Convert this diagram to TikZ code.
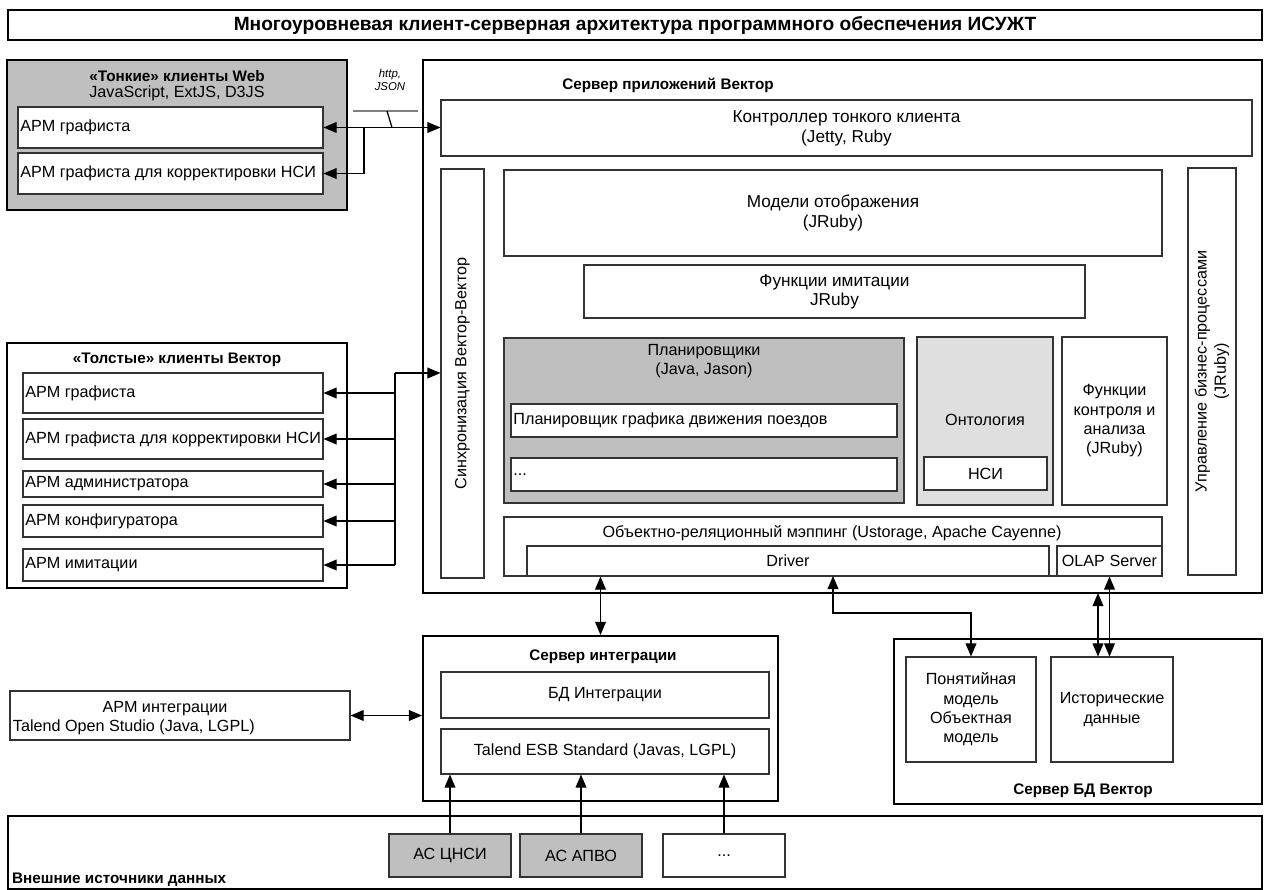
\documentclass[tikz,border=0pt]{standalone}
\usepackage{fontspec}
\setmainfont{Liberation Sans}
\usepackage{tikz}
\usetikzlibrary{positioning}
\usetikzlibrary{arrows}
\usetikzlibrary{fit}

\tikzset{
  blk/.style={draw=black!80, line width=0.6pt, inner sep=0pt, fill=white},
  frm/.style={draw=black, line width=1.2pt, inner sep=0pt},
  ttl/.style={font=\fontsize{8.7}{11}\selectfont\bfseries, inner sep=1pt},
  txt/.style={align=center, inner sep=1pt},
  lft/.style={anchor=west, inner sep=1.5pt},
  lnk/.style={line width=0.7pt},
}

\begin{document}
\begin{tikzpicture}[x=0.02cm,y=-0.02cm,>=triangle 45,font=\fontsize{9.2}{11}\selectfont]
  \useasboundingbox (0,0) rectangle (1264,889);

  % title
  \node[frm, fit={(8,10) (1262,40)}] (title) {};
  \node[txt, font=\fontsize{10.9}{12}\selectfont\bfseries] at (title.center)
    {Многоуровневая клиент-серверная архитектура программного обеспечения ИСУЖТ};

  % thin clients
  \node[frm, line width=0.9pt, fill=gray!50, fit={(7,60) (347,210)}] (web) {};
  \node[ttl] at (177,76) {«Тонкие» клиенты Web};
  \node at (177,93) {JavaScript, ExtJS, D3JS};
  \node[blk, fit={(18,107) (323,148)}] (web1) {};
  \node[lft] at (web1.west) {АРМ графиста};
  \node[blk, fit={(18,153) (323,194)}] (web2) {};
  \node[lft] at (web2.west) {АРМ графиста для корректировки НСИ};

  % fat clients
  \node[frm, line width=0.9pt, fit={(7,343) (347,588)}] (fat) {};
  \node[ttl] at (177,360) {«Толстые» клиенты Вектор};
  \node[blk, fit={(23,373) (323,413)}] (fat1) {};
  \node[lft] at (fat1.west) {АРМ графиста};
  \node[blk, fit={(23,419) (323,459)}] (fat2) {};
  \node[lft] at (fat2.west) {АРМ графиста для корректировки НСИ};
  \node[blk, fit={(23,471) (323,497)}] (fat3) {};
  \node[lft] at (fat3.west) {АРМ администратора};
  \node[blk, fit={(23,505) (323,537)}] (fat4) {};
  \node[lft] at (fat4.west) {АРМ конфигуратора};
  \node[blk, fit={(23,549) (323,581)}] (fat5) {};
  \node[lft] at (fat5.west) {АРМ имитации};

  % application server
  \node[frm, fit={(423,60) (1262,593)}] (app) {};
  \node[ttl] at (668,85) {Сервер приложений Вектор};
  \node[blk, fit={(441,100) (1252,156)}] (ctrl) {};
  \node[txt, font=\fontsize{9.8}{11.5}\selectfont] at (ctrl.center) {Контроллер тонкого клиента\\(Jetty, Ruby};
  \node[blk, fit={(441,169) (484,578)}] (sync) {};
  \node[rotate=90] at (sync.center) {Синхронизация Вектор-Вектор};
  \node[blk, fit={(504,170) (1162,256)}] (models) {};
  \node[txt, font=\fontsize{9.8}{11.5}\selectfont] at (models.center) {Модели отображения\\(JRuby)};
  \node[blk, fit={(584,265) (1085,318)}] (imit) {};
  \node[txt, font=\fontsize{9.8}{11}\selectfont] at (imit.center) {Функции имитации\\JRuby};
  \node[blk, fit={(1188,168) (1236,575)}] (bpm) {};
  \node[txt, rotate=90] at (bpm.center) {Управление бизнес-процессами\\(JRuby)};

  \node[blk, fill=gray!50, fit={(504,338) (904,503)}] (plan) {};
  \node[txt] at (704,361) {Планировщики\\(Java, Jason)};
  \node[blk, fit={(511,404) (897,437)}] (plan1) {};
  \node[lft] at (plan1.west) {Планировщик графика движения поездов};
  \node[blk, fit={(511,458) (897,491)}] (plan2) {};
  \node[lft] at (plan2.west) {...};

  \node[blk, fill=gray!25, fit={(917,337) (1053,505)}] (onto) {};
  \node at (985,420) {Онтология};
  \node[blk, fit={(924,457) (1047,490)}] (nsi) {};
  \node at (nsi.center) {НСИ};
  \node[blk, fit={(1062,337) (1167,505)}] (check) {};
  \node[txt] at (check.center) {Функции\\контроля и\\анализа\\(JRuby)};

  \node[blk, fit={(504,517) (1162,576)}] (orm) {};
  \node at (832,533) {Объектно-реляционный мэппинг (Ustorage, Apache Cayenne)};
  \node[blk, fit={(527,546) (1049,576)}] (driver) {};
  \node at (driver.center) {Driver};
  \node[blk, fit={(1057,546) (1162,576)}] (olap) {};
  \node at (olap.center) {OLAP Server};

  % integration
  \node[frm, fit={(423,636) (778,801)}] (isrv) {};
  \node[ttl] at (603,657) {Сервер интеграции};
  \node[blk, fit={(441,672) (769,718)}] (idb) {};
  \node at (idb.center) {БД Интеграции};
  \node[blk, fit={(441,729) (769,774)}] (esb) {};
  \node at (esb.center) {Talend ESB Standard (Javas, LGPL)};

  \node[blk, fit={(10,691) (350,740)}] (armint) {};
  \node at (165,709) {АРМ интеграции};
  \node[lft] at (10,727) {Talend Open Studio (Java, LGPL)};

  % database server
  \node[frm, fit={(894,639) (1262,804)}] (dbsrv) {};
  \node[ttl] at (1083,791) {Сервер БД Вектор};
  \node[blk, fit={(906,657) (1036,762)}] (concept) {};
  \node[txt] at (concept.center) {Понятийная\\модель\\Объектная\\модель};
  \node[blk, fit={(1051,657) (1173,762)}] (hist) {};
  \node[txt] at (hist.center) {Исторические\\данные};

  % external sources
  \node[frm, fit={(8,816) (1262,889)}] (ext) {};
  \node[ttl, anchor=west] at (10,880) {Внешние источники данных};
  \node[blk, fill=gray!50, fit={(389,834) (511,877)}] (cnsi) {};
  \node at (cnsi.center) {АС ЦНСИ};
  \node[blk, fill=gray!50, fit={(520,834) (642,877)}] (apvo) {};
  \node at (apvo.center) {АС АПВО};
  \node[blk, fit={(663,834) (785,877)}] (more) {};
  \node at (more.center) {...};

  % thin client links
  \coordinate (wj) at (364,127.5);
  \draw[lnk,<->] (web1.east) -- (web1.east -| ctrl.west);
  \draw[lnk,->] (wj) |- (web2.east);
  \draw[gray, line width=0.8pt] (353,111) -- (418,111);
  \draw[lnk] (387,111) -- (392,127.5);
  \node[font=\fontsize{6.5}{7.5}\selectfont\itshape, align=center] at (390,80) {http,\\JSON};

  % fat client links
  \coordinate (fj) at (395,373);
  \draw[lnk,->] (fj) -- (fj -| sync.west);
  \draw[lnk] (fj) -- (fj |- fat5.east);
  \foreach \n in {fat1,fat2,fat3,fat4,fat5}
    \draw[lnk,->] (fj |- \n.east) -- (\n.east);

  % server links
  \draw[lnk,<->] (isrv.north |- driver.south) -- (isrv.north);
  \coordinate (dr) at (833,576);
  \draw[lnk,<->] (dr) -- ++(0,37) -| (concept.north);
  \coordinate (hb) at (1098,593);
  \draw[lnk,<->] (hb) -- (hb |- hist.north);
  \draw[lnk,<->] (olap.south) -- (olap.south |- hist.north);
  \draw[lnk,<->] (armint.east) -- (armint.east -| isrv.west);
  \foreach \n in {cnsi,apvo,more}
    \draw[lnk,->] (\n.north) -- (\n.north |- esb.south);
\end{tikzpicture}
\end{document}
